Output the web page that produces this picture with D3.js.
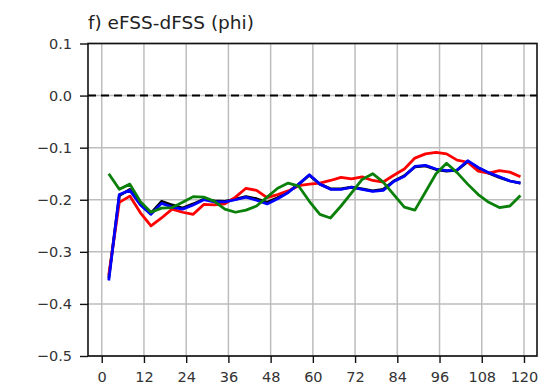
<!DOCTYPE html>
<html><head><meta charset="utf-8">
<script src="https://cdn.jsdelivr.net/npm/d3@7"></script>
<style>body{margin:0;background:#fff}svg{display:block}</style>
</head><body><svg id="c" width="549" height="385"></svg>
<script>
const hours = [2,5,8,11,14,17,20,23,26,29,32,35,38,41,44,47,50,53,56,59,62,65,68,71,74,77,80,83,86,89,92,95,98,101,104,107,110,113,116,119];
const blackSeries = [-0.350,-0.192,-0.180,-0.208,-0.226,-0.203,-0.210,-0.216,-0.208,-0.199,-0.202,-0.203,-0.199,-0.194,-0.198,-0.205,-0.196,-0.185,-0.170,-0.153,-0.170,-0.179,-0.179,-0.176,-0.179,-0.183,-0.180,-0.164,-0.154,-0.137,-0.135,-0.142,-0.145,-0.143,-0.127,-0.139,-0.149,-0.157,-0.164,-0.168];
const redSeries = [-0.345,-0.205,-0.193,-0.225,-0.250,-0.235,-0.218,-0.224,-0.228,-0.209,-0.210,-0.208,-0.195,-0.178,-0.182,-0.196,-0.190,-0.183,-0.173,-0.170,-0.168,-0.163,-0.157,-0.160,-0.156,-0.163,-0.166,-0.153,-0.141,-0.120,-0.112,-0.109,-0.112,-0.124,-0.128,-0.145,-0.149,-0.144,-0.147,-0.156];
const blueSeries = [-0.355,-0.190,-0.182,-0.210,-0.228,-0.207,-0.214,-0.218,-0.210,-0.200,-0.204,-0.204,-0.200,-0.195,-0.201,-0.208,-0.198,-0.186,-0.170,-0.152,-0.170,-0.180,-0.180,-0.176,-0.180,-0.184,-0.182,-0.165,-0.155,-0.136,-0.134,-0.141,-0.144,-0.143,-0.125,-0.138,-0.148,-0.156,-0.164,-0.168];
const greenSeries = [-0.150,-0.180,-0.170,-0.204,-0.224,-0.216,-0.215,-0.205,-0.194,-0.195,-0.203,-0.218,-0.224,-0.220,-0.212,-0.195,-0.178,-0.168,-0.174,-0.203,-0.228,-0.235,-0.212,-0.187,-0.161,-0.150,-0.166,-0.190,-0.214,-0.220,-0.185,-0.150,-0.130,-0.148,-0.170,-0.190,-0.205,-0.215,-0.212,-0.192];
const xTicks = [0,12,24,36,48,60,72,84,96,108,120];
const yTicks = [0.1,0.0,-0.1,-0.2,-0.3,-0.4,-0.5];
const title = "f) eFSS-dFSS (phi)";

const svg = d3.select("#c");
const L = 88, R = 537, T = 43.5, B = 356;
const x = d3.scaleLinear().domain([-3.9, 123.7]).range([L, R]);
const y = d3.scaleLinear().domain([-0.5, 0.1]).range([B, T]);
const font = "DejaVu Sans, sans-serif";

// grid
svg.append("g").selectAll("line").data(xTicks).join("line")
  .attr("x1", d => x(d)).attr("x2", d => x(d)).attr("y1", T).attr("y2", B)
  .attr("stroke", "#bdbdbd").attr("stroke-width", 1.5);
svg.append("g").selectAll("line").data(yTicks).join("line")
  .attr("x1", L).attr("x2", R).attr("y1", d => y(d)).attr("y2", d => y(d))
  .attr("stroke", "#bdbdbd").attr("stroke-width", 1.5);

// zero dashed line
svg.append("line").attr("x1", L).attr("x2", R).attr("y1", y(0)).attr("y2", y(0))
  .attr("stroke", "#000").attr("stroke-width", 2).attr("stroke-dasharray", "8,5");

const line = d3.line().x((d, i) => x(hours[i])).y(d => y(d));
const series = [[blackSeries, "#000000"], [redSeries, "#ff0000"], [blueSeries, "#0000ff"], [greenSeries, "#0a800a"]];
series.forEach(([s, c]) => {
  svg.append("path").datum(s).attr("d", line).attr("fill", "none")
    .attr("stroke", c).attr("stroke-width", 2.8).attr("stroke-linejoin", "round");
});

// frame
svg.append("rect").attr("x", L).attr("y", T).attr("width", R - L).attr("height", B - T)
  .attr("fill", "none").attr("stroke", "#111").attr("stroke-width", 1.6);

// axes
const fmtY = d => d3.format(".1f")(d).replace("-", "\u2212");
const yAxis = d3.axisLeft(y).tickValues(yTicks).tickFormat(fmtY).tickSize(8).tickPadding(8);
const gy = svg.append("g").attr("transform", `translate(${L},0)`).call(yAxis);
const xAxis = d3.axisBottom(x).tickValues(xTicks).tickFormat(d3.format("d")).tickSize(7).tickPadding(9);
const gx = svg.append("g").attr("transform", `translate(0,${B})`).call(xAxis);
[gx, gy].forEach(g => {
  g.select(".domain").remove();
  g.selectAll("line").attr("stroke", "#111").attr("stroke-width", 1.4);
  g.selectAll("text").attr("font-family", font).attr("font-size", 14.5).attr("fill", "#333");
});

svg.append("text").attr("x", L).attr("y", 29).text(title)
  .attr("font-family", font).attr("font-size", 18.5).attr("fill", "#222");
</script></body></html>
